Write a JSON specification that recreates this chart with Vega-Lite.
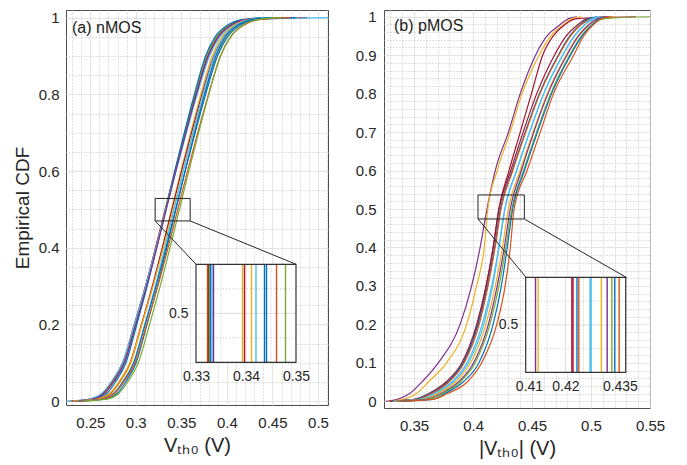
{
  "$schema": "https://vega.github.io/schema/vega-lite/v6.json",
  "padding": {"left": 12, "top": 9, "right": 5, "bottom": 5},
  "bounds": "flush",
  "spacing": 56,
  "config": {
    "view": {"stroke": "#4d4d4d", "strokeWidth": 1},
    "font": "Liberation Sans",
    "axis": {"labelFont": "Liberation Sans", "titleFont": "Liberation Sans", "labelColor": "#262626", "titleColor": "#262626", "titleFontWeight": "normal", "labelFontSize": 15, "titleFontSize": 19}
  },
  "resolve": {"scale": {"color": "independent"}},
  "datasets": {
    "nmos": [
      {"s":"L1","x":0.226,"y":0},{"s":"L1","x":0.2503,"y":0.005},{"s":"L1","x":0.2643,"y":0.02},{"s":"L1","x":0.2743,"y":0.05},{"s":"L1","x":0.2863,"y":0.1},{"s":"L1","x":0.2988,"y":0.2},{"s":"L1","x":0.3108,"y":0.3},{"s":"L1","x":0.3218,"y":0.4},{"s":"L1","x":0.3323,"y":0.5},{"s":"L1","x":0.3428,"y":0.6},{"s":"L1","x":0.3538,"y":0.7},{"s":"L1","x":0.3653,"y":0.8},{"s":"L1","x":0.3783,"y":0.9},{"s":"L1","x":0.3893,"y":0.95},{"s":"L1","x":0.4033,"y":0.98},{"s":"L1","x":0.4203,"y":0.995},{"s":"L1","x":0.452,"y":1},
      {"s":"L2","x":0.229,"y":0},{"s":"L2","x":0.2489,"y":0.005},{"s":"L2","x":0.2631,"y":0.02},{"s":"L2","x":0.2733,"y":0.05},{"s":"L2","x":0.2856,"y":0.1},{"s":"L2","x":0.2983,"y":0.2},{"s":"L2","x":0.3106,"y":0.3},{"s":"L2","x":0.3218,"y":0.4},{"s":"L2","x":0.3325,"y":0.5},{"s":"L2","x":0.3432,"y":0.6},{"s":"L2","x":0.3544,"y":0.7},{"s":"L2","x":0.3662,"y":0.8},{"s":"L2","x":0.3794,"y":0.9},{"s":"L2","x":0.3906,"y":0.95},{"s":"L2","x":0.4049,"y":0.98},{"s":"L2","x":0.4223,"y":0.995},{"s":"L2","x":0.488,"y":1},
      {"s":"L3","x":0.235,"y":0},{"s":"L3","x":0.2523,"y":0.005},{"s":"L3","x":0.2661,"y":0.02},{"s":"L3","x":0.2759,"y":0.05},{"s":"L3","x":0.2876,"y":0.1},{"s":"L3","x":0.2999,"y":0.2},{"s":"L3","x":0.3116,"y":0.3},{"s":"L3","x":0.3224,"y":0.4},{"s":"L3","x":0.3327,"y":0.5},{"s":"L3","x":0.343,"y":0.6},{"s":"L3","x":0.3538,"y":0.7},{"s":"L3","x":0.365,"y":0.8},{"s":"L3","x":0.3778,"y":0.9},{"s":"L3","x":0.3886,"y":0.95},{"s":"L3","x":0.4023,"y":0.98},{"s":"L3","x":0.4189,"y":0.995},{"s":"L3","x":0.460,"y":1},
      {"s":"L4","x":0.232,"y":0},{"s":"L4","x":0.255,"y":0.005},{"s":"L4","x":0.2683,"y":0.02},{"s":"L4","x":0.2778,"y":0.05},{"s":"L4","x":0.2892,"y":0.1},{"s":"L4","x":0.3011,"y":0.2},{"s":"L4","x":0.3125,"y":0.3},{"s":"L4","x":0.3229,"y":0.4},{"s":"L4","x":0.3329,"y":0.5},{"s":"L4","x":0.3429,"y":0.6},{"s":"L4","x":0.3533,"y":0.7},{"s":"L4","x":0.3643,"y":0.8},{"s":"L4","x":0.3766,"y":0.9},{"s":"L4","x":0.3871,"y":0.95},{"s":"L4","x":0.4004,"y":0.98},{"s":"L4","x":0.4165,"y":0.995},{"s":"L4","x":0.438,"y":1},
      {"s":"L5","x":0.224,"y":0},{"s":"L5","x":0.2479,"y":0.005},{"s":"L5","x":0.2625,"y":0.02},{"s":"L5","x":0.2729,"y":0.05},{"s":"L5","x":0.2854,"y":0.1},{"s":"L5","x":0.2984,"y":0.2},{"s":"L5","x":0.3108,"y":0.3},{"s":"L5","x":0.3223,"y":0.4},{"s":"L5","x":0.3332,"y":0.5},{"s":"L5","x":0.3441,"y":0.6},{"s":"L5","x":0.3556,"y":0.7},{"s":"L5","x":0.3675,"y":0.8},{"s":"L5","x":0.381,"y":0.9},{"s":"L5","x":0.3925,"y":0.95},{"s":"L5","x":0.407,"y":0.98},{"s":"L5","x":0.4247,"y":0.995},{"s":"L5","x":0.511,"y":1},
      {"s":"L6","x":0.230,"y":0},{"s":"L6","x":0.2515,"y":0.005},{"s":"L6","x":0.2655,"y":0.02},{"s":"L6","x":0.2755,"y":0.05},{"s":"L6","x":0.2875,"y":0.1},{"s":"L6","x":0.3,"y":0.2},{"s":"L6","x":0.312,"y":0.3},{"s":"L6","x":0.323,"y":0.4},{"s":"L6","x":0.3335,"y":0.5},{"s":"L6","x":0.344,"y":0.6},{"s":"L6","x":0.355,"y":0.7},{"s":"L6","x":0.3665,"y":0.8},{"s":"L6","x":0.3795,"y":0.9},{"s":"L6","x":0.3905,"y":0.95},{"s":"L6","x":0.4045,"y":0.98},{"s":"L6","x":0.4215,"y":0.995},{"s":"L6","x":0.470,"y":1},
      {"s":"L7","x":0.236,"y":0},{"s":"L7","x":0.2598,"y":0.005},{"s":"L7","x":0.2733,"y":0.02},{"s":"L7","x":0.283,"y":0.05},{"s":"L7","x":0.2947,"y":0.1},{"s":"L7","x":0.3068,"y":0.2},{"s":"L7","x":0.3184,"y":0.3},{"s":"L7","x":0.3291,"y":0.4},{"s":"L7","x":0.3393,"y":0.5},{"s":"L7","x":0.3495,"y":0.6},{"s":"L7","x":0.3602,"y":0.7},{"s":"L7","x":0.3713,"y":0.8},{"s":"L7","x":0.3839,"y":0.9},{"s":"L7","x":0.3946,"y":0.95},{"s":"L7","x":0.4082,"y":0.98},{"s":"L7","x":0.4247,"y":0.995},{"s":"L7","x":0.455,"y":1},
      {"s":"L8","x":0.233,"y":0},{"s":"L8","x":0.2577,"y":0.005},{"s":"L8","x":0.2717,"y":0.02},{"s":"L8","x":0.2817,"y":0.05},{"s":"L8","x":0.2937,"y":0.1},{"s":"L8","x":0.3062,"y":0.2},{"s":"L8","x":0.3182,"y":0.3},{"s":"L8","x":0.3292,"y":0.4},{"s":"L8","x":0.3397,"y":0.5},{"s":"L8","x":0.3502,"y":0.6},{"s":"L8","x":0.3612,"y":0.7},{"s":"L8","x":0.3727,"y":0.8},{"s":"L8","x":0.3857,"y":0.9},{"s":"L8","x":0.3967,"y":0.95},{"s":"L8","x":0.4107,"y":0.98},{"s":"L8","x":0.4277,"y":0.995},{"s":"L8","x":0.462,"y":1},
      {"s":"L9","x":0.231,"y":0},{"s":"L9","x":0.2566,"y":0.005},{"s":"L9","x":0.2711,"y":0.02},{"s":"L9","x":0.2814,"y":0.05},{"s":"L9","x":0.2937,"y":0.1},{"s":"L9","x":0.3066,"y":0.2},{"s":"L9","x":0.319,"y":0.3},{"s":"L9","x":0.3303,"y":0.4},{"s":"L9","x":0.3411,"y":0.5},{"s":"L9","x":0.3519,"y":0.6},{"s":"L9","x":0.3632,"y":0.7},{"s":"L9","x":0.3751,"y":0.8},{"s":"L9","x":0.3885,"y":0.9},{"s":"L9","x":0.3998,"y":0.95},{"s":"L9","x":0.4142,"y":0.98},{"s":"L9","x":0.4317,"y":0.995},{"s":"L9","x":0.468,"y":1},
      {"s":"L10","x":0.238,"y":0},{"s":"L10","x":0.2633,"y":0.005},{"s":"L10","x":0.2767,"y":0.02},{"s":"L10","x":0.2863,"y":0.05},{"s":"L10","x":0.2978,"y":0.1},{"s":"L10","x":0.3098,"y":0.2},{"s":"L10","x":0.3214,"y":0.3},{"s":"L10","x":0.3319,"y":0.4},{"s":"L10","x":0.342,"y":0.5},{"s":"L10","x":0.3521,"y":0.6},{"s":"L10","x":0.3626,"y":0.7},{"s":"L10","x":0.3737,"y":0.8},{"s":"L10","x":0.3862,"y":0.9},{"s":"L10","x":0.3967,"y":0.95},{"s":"L10","x":0.4102,"y":0.98},{"s":"L10","x":0.4265,"y":0.995},{"s":"L10","x":0.450,"y":1},
      {"s":"L11","x":0.240,"y":0},{"s":"L11","x":0.2617,"y":0.005},{"s":"L11","x":0.2757,"y":0.02},{"s":"L11","x":0.2857,"y":0.05},{"s":"L11","x":0.2977,"y":0.1},{"s":"L11","x":0.3102,"y":0.2},{"s":"L11","x":0.3222,"y":0.3},{"s":"L11","x":0.3332,"y":0.4},{"s":"L11","x":0.3437,"y":0.5},{"s":"L11","x":0.3542,"y":0.6},{"s":"L11","x":0.3652,"y":0.7},{"s":"L11","x":0.3767,"y":0.8},{"s":"L11","x":0.3897,"y":0.9},{"s":"L11","x":0.4007,"y":0.95},{"s":"L11","x":0.4147,"y":0.98},{"s":"L11","x":0.4317,"y":0.995},{"s":"L11","x":0.475,"y":1},
      {"s":"L12","x":0.237,"y":0},{"s":"L12","x":0.2662,"y":0.005},{"s":"L12","x":0.2795,"y":0.02},{"s":"L12","x":0.289,"y":0.05},{"s":"L12","x":0.3004,"y":0.1},{"s":"L12","x":0.3123,"y":0.2},{"s":"L12","x":0.3237,"y":0.3},{"s":"L12","x":0.3341,"y":0.4},{"s":"L12","x":0.3441,"y":0.5},{"s":"L12","x":0.3541,"y":0.6},{"s":"L12","x":0.3645,"y":0.7},{"s":"L12","x":0.3755,"y":0.8},{"s":"L12","x":0.3878,"y":0.9},{"s":"L12","x":0.3983,"y":0.95},{"s":"L12","x":0.4116,"y":0.98},{"s":"L12","x":0.4277,"y":0.995},{"s":"L12","x":0.448,"y":1},
      {"s":"L13","x":0.239,"y":0},{"s":"L13","x":0.2625,"y":0.005},{"s":"L13","x":0.2767,"y":0.02},{"s":"L13","x":0.2869,"y":0.05},{"s":"L13","x":0.2992,"y":0.1},{"s":"L13","x":0.3119,"y":0.2},{"s":"L13","x":0.3242,"y":0.3},{"s":"L13","x":0.3354,"y":0.4},{"s":"L13","x":0.3461,"y":0.5},{"s":"L13","x":0.3568,"y":0.6},{"s":"L13","x":0.368,"y":0.7},{"s":"L13","x":0.3798,"y":0.8},{"s":"L13","x":0.393,"y":0.9},{"s":"L13","x":0.4042,"y":0.95},{"s":"L13","x":0.4185,"y":0.98},{"s":"L13","x":0.4359,"y":0.995},{"s":"L13","x":0.470,"y":1},
      {"s":"L14","x":0.242,"y":0},{"s":"L14","x":0.2675,"y":0.005},{"s":"L14","x":0.2813,"y":0.02},{"s":"L14","x":0.2911,"y":0.05},{"s":"L14","x":0.3028,"y":0.1},{"s":"L14","x":0.3151,"y":0.2},{"s":"L14","x":0.3268,"y":0.3},{"s":"L14","x":0.3376,"y":0.4},{"s":"L14","x":0.3479,"y":0.5},{"s":"L14","x":0.3582,"y":0.6},{"s":"L14","x":0.369,"y":0.7},{"s":"L14","x":0.3802,"y":0.8},{"s":"L14","x":0.393,"y":0.9},{"s":"L14","x":0.4038,"y":0.95},{"s":"L14","x":0.4175,"y":0.98},{"s":"L14","x":0.4341,"y":0.995},{"s":"L14","x":0.460,"y":1}
    ],
    "pmos": [
      {"s":"R1","x":0.326,"y":0},{"s":"R1","x":0.336,"y":0.005},{"s":"R1","x":0.3463,"y":0.02},{"s":"R1","x":0.3565,"y":0.05},{"s":"R1","x":0.3705,"y":0.1},{"s":"R1","x":0.389,"y":0.2},{"s":"R1","x":0.3988,"y":0.3},{"s":"R1","x":0.406,"y":0.4},{"s":"R1","x":0.4118,"y":0.5},{"s":"R1","x":0.4188,"y":0.6},{"s":"R1","x":0.430,"y":0.7},{"s":"R1","x":0.440,"y":0.8},{"s":"R1","x":0.453,"y":0.9},{"s":"R1","x":0.4627,"y":0.95},{"s":"R1","x":0.474,"y":0.98},{"s":"R1","x":0.481,"y":0.995},{"s":"R1","x":0.488,"y":1},
      {"s":"R2","x":0.328,"y":0},{"s":"R2","x":0.341,"y":0.005},{"s":"R2","x":0.352,"y":0.02},{"s":"R2","x":0.362,"y":0.05},{"s":"R2","x":0.3775,"y":0.1},{"s":"R2","x":0.3946,"y":0.2},{"s":"R2","x":0.403,"y":0.3},{"s":"R2","x":0.4095,"y":0.4},{"s":"R2","x":0.4125,"y":0.5},{"s":"R2","x":0.4205,"y":0.6},{"s":"R2","x":0.4315,"y":0.7},{"s":"R2","x":0.4415,"y":0.8},{"s":"R2","x":0.456,"y":0.9},{"s":"R2","x":0.466,"y":0.95},{"s":"R2","x":0.477,"y":0.98},{"s":"R2","x":0.484,"y":0.995},{"s":"R2","x":0.492,"y":1},
      {"s":"R3","x":0.330,"y":0},{"s":"R3","x":0.352,"y":0.005},{"s":"R3","x":0.3648,"y":0.02},{"s":"R3","x":0.3788,"y":0.05},{"s":"R3","x":0.3918,"y":0.1},{"s":"R3","x":0.4038,"y":0.2},{"s":"R3","x":0.4113,"y":0.3},{"s":"R3","x":0.417,"y":0.4},{"s":"R3","x":0.4218,"y":0.5},{"s":"R3","x":0.4305,"y":0.6},{"s":"R3","x":0.440,"y":0.7},{"s":"R3","x":0.4495,"y":0.8},{"s":"R3","x":0.459,"y":0.9},{"s":"R3","x":0.468,"y":0.95},{"s":"R3","x":0.478,"y":0.98},{"s":"R3","x":0.488,"y":0.995},{"s":"R3","x":0.538,"y":1},
      {"s":"R4","x":0.329,"y":0},{"s":"R4","x":0.350,"y":0.005},{"s":"R4","x":0.3625,"y":0.02},{"s":"R4","x":0.377,"y":0.05},{"s":"R4","x":0.3905,"y":0.1},{"s":"R4","x":0.4031,"y":0.2},{"s":"R4","x":0.411,"y":0.3},{"s":"R4","x":0.4171,"y":0.4},{"s":"R4","x":0.4221,"y":0.5},{"s":"R4","x":0.432,"y":0.6},{"s":"R4","x":0.4425,"y":0.7},{"s":"R4","x":0.454,"y":0.8},{"s":"R4","x":0.469,"y":0.9},{"s":"R4","x":0.479,"y":0.95},{"s":"R4","x":0.489,"y":0.98},{"s":"R4","x":0.497,"y":0.995},{"s":"R4","x":0.512,"y":1},
      {"s":"R5","x":0.331,"y":0},{"s":"R5","x":0.351,"y":0.005},{"s":"R5","x":0.3635,"y":0.02},{"s":"R5","x":0.3785,"y":0.05},{"s":"R5","x":0.3915,"y":0.1},{"s":"R5","x":0.4042,"y":0.2},{"s":"R5","x":0.4122,"y":0.3},{"s":"R5","x":0.4182,"y":0.4},{"s":"R5","x":0.4232,"y":0.5},{"s":"R5","x":0.4332,"y":0.6},{"s":"R5","x":0.4442,"y":0.7},{"s":"R5","x":0.4562,"y":0.8},{"s":"R5","x":0.4722,"y":0.9},{"s":"R5","x":0.482,"y":0.95},{"s":"R5","x":0.491,"y":0.98},{"s":"R5","x":0.498,"y":0.995},{"s":"R5","x":0.505,"y":1},
      {"s":"R6","x":0.333,"y":0},{"s":"R6","x":0.353,"y":0.005},{"s":"R6","x":0.3648,"y":0.02},{"s":"R6","x":0.3795,"y":0.05},{"s":"R6","x":0.3925,"y":0.1},{"s":"R6","x":0.4052,"y":0.2},{"s":"R6","x":0.4127,"y":0.3},{"s":"R6","x":0.4187,"y":0.4},{"s":"R6","x":0.4237,"y":0.5},{"s":"R6","x":0.4337,"y":0.6},{"s":"R6","x":0.4447,"y":0.7},{"s":"R6","x":0.4567,"y":0.8},{"s":"R6","x":0.4727,"y":0.9},{"s":"R6","x":0.4827,"y":0.95},{"s":"R6","x":0.4917,"y":0.98},{"s":"R6","x":0.501,"y":0.995},{"s":"R6","x":0.515,"y":1},
      {"s":"R7","x":0.332,"y":0},{"s":"R7","x":0.355,"y":0.005},{"s":"R7","x":0.3668,"y":0.02},{"s":"R7","x":0.3818,"y":0.05},{"s":"R7","x":0.3948,"y":0.1},{"s":"R7","x":0.4078,"y":0.2},{"s":"R7","x":0.4158,"y":0.3},{"s":"R7","x":0.4218,"y":0.4},{"s":"R7","x":0.4268,"y":0.5},{"s":"R7","x":0.4368,"y":0.6},{"s":"R7","x":0.4478,"y":0.7},{"s":"R7","x":0.4598,"y":0.8},{"s":"R7","x":0.4758,"y":0.9},{"s":"R7","x":0.4858,"y":0.95},{"s":"R7","x":0.4948,"y":0.98},{"s":"R7","x":0.501,"y":0.995},{"s":"R7","x":0.507,"y":1},
      {"s":"R8","x":0.334,"y":0},{"s":"R8","x":0.356,"y":0.005},{"s":"R8","x":0.3681,"y":0.02},{"s":"R8","x":0.3831,"y":0.05},{"s":"R8","x":0.3961,"y":0.1},{"s":"R8","x":0.4091,"y":0.2},{"s":"R8","x":0.4166,"y":0.3},{"s":"R8","x":0.4221,"y":0.4},{"s":"R8","x":0.4271,"y":0.5},{"s":"R8","x":0.4371,"y":0.6},{"s":"R8","x":0.4481,"y":0.7},{"s":"R8","x":0.4601,"y":0.8},{"s":"R8","x":0.4761,"y":0.9},{"s":"R8","x":0.4861,"y":0.95},{"s":"R8","x":0.4951,"y":0.98},{"s":"R8","x":0.503,"y":0.995},{"s":"R8","x":0.510,"y":1},
      {"s":"R9","x":0.333,"y":0},{"s":"R9","x":0.358,"y":0.005},{"s":"R9","x":0.3699,"y":0.02},{"s":"R9","x":0.3849,"y":0.05},{"s":"R9","x":0.3979,"y":0.1},{"s":"R9","x":0.4109,"y":0.2},{"s":"R9","x":0.4189,"y":0.3},{"s":"R9","x":0.4249,"y":0.4},{"s":"R9","x":0.4299,"y":0.5},{"s":"R9","x":0.4399,"y":0.6},{"s":"R9","x":0.4509,"y":0.7},{"s":"R9","x":0.4629,"y":0.8},{"s":"R9","x":0.4789,"y":0.9},{"s":"R9","x":0.4889,"y":0.95},{"s":"R9","x":0.4979,"y":0.98},{"s":"R9","x":0.507,"y":0.995},{"s":"R9","x":0.520,"y":1},
      {"s":"R10","x":0.335,"y":0},{"s":"R10","x":0.360,"y":0.005},{"s":"R10","x":0.3725,"y":0.02},{"s":"R10","x":0.3875,"y":0.05},{"s":"R10","x":0.4005,"y":0.1},{"s":"R10","x":0.413,"y":0.2},{"s":"R10","x":0.4205,"y":0.3},{"s":"R10","x":0.4265,"y":0.4},{"s":"R10","x":0.4315,"y":0.5},{"s":"R10","x":0.441,"y":0.6},{"s":"R10","x":0.4515,"y":0.7},{"s":"R10","x":0.4635,"y":0.8},{"s":"R10","x":0.4795,"y":0.9},{"s":"R10","x":0.4895,"y":0.95},{"s":"R10","x":0.4985,"y":0.98},{"s":"R10","x":0.506,"y":0.995},{"s":"R10","x":0.515,"y":1},
      {"s":"R11","x":0.336,"y":0},{"s":"R11","x":0.362,"y":0.005},{"s":"R11","x":0.374,"y":0.02},{"s":"R11","x":0.389,"y":0.05},{"s":"R11","x":0.4018,"y":0.1},{"s":"R11","x":0.4143,"y":0.2},{"s":"R11","x":0.422,"y":0.3},{"s":"R11","x":0.4278,"y":0.4},{"s":"R11","x":0.4328,"y":0.5},{"s":"R11","x":0.4428,"y":0.6},{"s":"R11","x":0.4538,"y":0.7},{"s":"R11","x":0.4658,"y":0.8},{"s":"R11","x":0.4818,"y":0.9},{"s":"R11","x":0.4918,"y":0.95},{"s":"R11","x":0.5008,"y":0.98},{"s":"R11","x":0.512,"y":0.995},{"s":"R11","x":0.550,"y":1},
      {"s":"R12","x":0.338,"y":0},{"s":"R12","x":0.366,"y":0.005},{"s":"R12","x":0.376,"y":0.02},{"s":"R12","x":0.3915,"y":0.05},{"s":"R12","x":0.405,"y":0.1},{"s":"R12","x":0.417,"y":0.2},{"s":"R12","x":0.424,"y":0.3},{"s":"R12","x":0.429,"y":0.4},{"s":"R12","x":0.4336,"y":0.5},{"s":"R12","x":0.4436,"y":0.6},{"s":"R12","x":0.4546,"y":0.7},{"s":"R12","x":0.4666,"y":0.8},{"s":"R12","x":0.4826,"y":0.9},{"s":"R12","x":0.4926,"y":0.95},{"s":"R12","x":0.5016,"y":0.98},{"s":"R12","x":0.507,"y":0.995},{"s":"R12","x":0.512,"y":1},
      {"s":"R13","x":0.337,"y":0},{"s":"R13","x":0.366,"y":0.005},{"s":"R13","x":0.3782,"y":0.02},{"s":"R13","x":0.395,"y":0.05},{"s":"R13","x":0.4073,"y":0.1},{"s":"R13","x":0.4201,"y":0.2},{"s":"R13","x":0.4272,"y":0.3},{"s":"R13","x":0.4316,"y":0.4},{"s":"R13","x":0.4348,"y":0.5},{"s":"R13","x":0.4458,"y":0.6},{"s":"R13","x":0.457,"y":0.7},{"s":"R13","x":0.4682,"y":0.8},{"s":"R13","x":0.4853,"y":0.9},{"s":"R13","x":0.4938,"y":0.95},{"s":"R13","x":0.5023,"y":0.98},{"s":"R13","x":0.509,"y":0.995},{"s":"R13","x":0.518,"y":1}
    ]
  },
  "hconcat": [
    {
      "width": 262,
      "height": 395,
      "title": {"text": "(a) nMOS", "anchor": "start", "frame": "group", "offset": -26, "dx": 6, "fontSize": 16, "fontWeight": "normal", "font": "Liberation Sans", "color": "#1a1a1a"},
      "resolve": {"scale": {"x": "independent", "y": "independent"}, "axis": {"x": "independent", "y": "independent"}},
      "layer": [
        {
          "data": {"name": "nmos"},
          "mark": {"type": "line", "strokeWidth": 1.2, "clip": true, "interpolate": "monotone"},
          "encoding": {
            "x": {"field": "x", "type": "quantitative", "scale": {"domain": [0.2234, 0.511], "nice": false, "zero": false},
              "axis": {"title": "Vₜₕ₀ (V)", "values": [0.23,0.24,0.25,0.26,0.27,0.28,0.29,0.3,0.31,0.32,0.33,0.34,0.35,0.36,0.37,0.38,0.39,0.4,0.41,0.42,0.43,0.44,0.45,0.46,0.47,0.48,0.49,0.5,0.51],
                "labelExpr": "abs(datum.value*20-round(datum.value*20))<0.001 ? format(datum.value,'.2~f') : ''",
                "gridDash": {"condition": {"test": "abs(datum.value*20-round(datum.value*20))<0.001", "value": [1, 0]}, "value": [1, 2]},
                "gridColor": {"condition": {"test": "abs(datum.value*20-round(datum.value*20))<0.001", "value": "#dddddd"}, "value": "#c2c2c2"},
                "ticks": false, "domain": false, "labelPadding": 10, "titlePadding": 5, "labelOverlap": false, "labelFlush": false, "titleFontSize": 20}},
            "y": {"field": "y", "type": "quantitative", "scale": {"domain": [-0.01, 1.02], "nice": false, "zero": false},
              "axis": {"title": "Empirical CDF", "values": [0,0.05,0.1,0.15,0.2,0.25,0.3,0.35,0.4,0.45,0.5,0.55,0.6,0.65,0.7,0.75,0.8,0.85,0.9,0.95,1],
                "labelExpr": "abs(datum.value*5-round(datum.value*5))<0.001 ? format(datum.value,'.1~f') : ''",
                "gridDash": {"condition": {"test": "abs(datum.value*5-round(datum.value*5))<0.001", "value": [1, 0]}, "value": [1, 2]},
                "gridColor": {"condition": {"test": "abs(datum.value*5-round(datum.value*5))<0.001", "value": "#dddddd"}, "value": "#c2c2c2"},
                "ticks": false, "domain": false, "labelPadding": 7, "titlePadding": 6, "labelOverlap": false, "labelFlush": false}},
            "color": {"field": "s", "type": "nominal", "legend": null,
              "scale": {"domain": ["L1","L2","L3","L4","L5","L6","L7","L8","L9","L10","L11","L12","L13","L14"],
                "range": ["#D95319","#A2142F","#77AC30","#0072BD","#4DBEEE","#7E2F8E","#EDB120","#A2142F","#EDB120","#4DBEEE","#0072BD","#0072BD","#D95319","#77AC30"]}}
          }
        },
        {
          "data": {"values": [{}]},
          "mark": {"type": "rect", "filled": false, "stroke": "#262626", "strokeWidth": 1},
          "encoding": {
            "x": {"datum": 0.3213, "type": "quantitative", "scale": {"domain": [0.2234, 0.511], "nice": false, "zero": false}, "axis": null},
            "x2": {"datum": 0.3597},
            "y": {"datum": 0.470, "type": "quantitative", "scale": {"domain": [-0.01, 1.02], "nice": false, "zero": false}, "axis": null},
            "y2": {"datum": 0.5286}
          }
        },
        {
          "data": {"values": [{}]},
          "mark": {"type": "rule", "stroke": "#262626", "strokeWidth": 1},
          "encoding": {
            "x": {"datum": 0.3213, "type": "quantitative", "scale": {"domain": [0.2234, 0.511], "nice": false, "zero": false}, "axis": null},
            "x2": {"datum": 0.3661},
            "y": {"datum": 0.470, "type": "quantitative", "scale": {"domain": [-0.01, 1.02], "nice": false, "zero": false}, "axis": null},
            "y2": {"datum": 0.357}
          }
        },
        {
          "data": {"values": [{}]},
          "mark": {"type": "rule", "stroke": "#262626", "strokeWidth": 1},
          "encoding": {
            "x": {"datum": 0.3597, "type": "quantitative", "scale": {"domain": [0.2234, 0.511], "nice": false, "zero": false}, "axis": null},
            "x2": {"datum": 0.4759},
            "y": {"datum": 0.470, "type": "quantitative", "scale": {"domain": [-0.01, 1.02], "nice": false, "zero": false}, "axis": null},
            "y2": {"datum": 0.357}
          }
        },
        {
          "data": {"values": [{}]},
          "mark": {"type": "rect", "fill": "white"},
          "encoding": {
            "x": {"datum": 0.33, "type": "quantitative", "scale": {"domain": [0.304, 0.3564], "nice": false, "zero": false}, "axis": null},
            "x2": {"datum": 0.35},
            "y": {"datum": 0.49, "type": "quantitative", "scale": {"domain": [0.48129, 0.5619], "nice": false, "zero": false}, "axis": null},
            "y2": {"datum": 0.51}
          }
        },
        {
          "data": {"values": [{}]},
          "mark": {"type": "rule", "stroke": "#dddddd", "strokeWidth": 1},
          "encoding": {
            "x": {"datum": 0.33, "type": "quantitative", "scale": {"domain": [0.304, 0.3564], "nice": false, "zero": false}, "axis": null},
            "x2": {"datum": 0.35},
            "y": {"datum": 0.5, "type": "quantitative", "scale": {"domain": [0.48129, 0.5619], "nice": false, "zero": false}, "axis": null}
          }
        },
        {
          "data": {"values": [{}]},
          "mark": {"type": "rule", "stroke": "#c2c2c2", "strokeWidth": 1, "strokeDash": [1, 2]},
          "encoding": {
            "x": {"datum": 0.33, "type": "quantitative", "scale": {"domain": [0.304, 0.3564], "nice": false, "zero": false}, "axis": null},
            "x2": {"datum": 0.35},
            "y": {"datum": 0.495, "type": "quantitative", "scale": {"domain": [0.48129, 0.5619], "nice": false, "zero": false}, "axis": null}
          }
        },
        {
          "data": {"values": [{}]},
          "mark": {"type": "rule", "stroke": "#c2c2c2", "strokeWidth": 1, "strokeDash": [1, 2]},
          "encoding": {
            "x": {"datum": 0.33, "type": "quantitative", "scale": {"domain": [0.304, 0.3564], "nice": false, "zero": false}, "axis": null},
            "x2": {"datum": 0.35},
            "y": {"datum": 0.505, "type": "quantitative", "scale": {"domain": [0.48129, 0.5619], "nice": false, "zero": false}, "axis": null}
          }
        },
        {
          "data": {"values": [{}]},
          "mark": {"type": "rule", "stroke": "#dddddd", "strokeWidth": 1},
          "encoding": {
            "x": {"datum": 0.34, "type": "quantitative", "scale": {"domain": [0.304, 0.3564], "nice": false, "zero": false}, "axis": null},
            "y": {"datum": 0.49, "type": "quantitative", "scale": {"domain": [0.48129, 0.5619], "nice": false, "zero": false}, "axis": null},
            "y2": {"datum": 0.51}
          }
        },
        {
          "data": {"values": [{}]},
          "mark": {"type": "rule", "stroke": "#c2c2c2", "strokeWidth": 1, "strokeDash": [1, 2]},
          "encoding": {
            "x": {"datum": 0.335, "type": "quantitative", "scale": {"domain": [0.304, 0.3564], "nice": false, "zero": false}, "axis": null},
            "y": {"datum": 0.49, "type": "quantitative", "scale": {"domain": [0.48129, 0.5619], "nice": false, "zero": false}, "axis": null},
            "y2": {"datum": 0.51}
          }
        },
        {
          "data": {"values": [{}]},
          "mark": {"type": "rule", "stroke": "#c2c2c2", "strokeWidth": 1, "strokeDash": [1, 2]},
          "encoding": {
            "x": {"datum": 0.345, "type": "quantitative", "scale": {"domain": [0.304, 0.3564], "nice": false, "zero": false}, "axis": null},
            "y": {"datum": 0.49, "type": "quantitative", "scale": {"domain": [0.48129, 0.5619], "nice": false, "zero": false}, "axis": null},
            "y2": {"datum": 0.51}
          }
        },
        {
          "data": {"name": "nmos"},
          "transform": [{"filter": "datum.y == 0.5"}],
          "mark": {"type": "rule", "strokeWidth": 1.4},
          "encoding": {
            "x": {"field": "x", "type": "quantitative", "scale": {"domain": [0.304, 0.3564], "nice": false, "zero": false},
              "axis": {"orient": "bottom", "offset": -42.7, "values": [0.33, 0.34, 0.35], "format": ".2~f", "grid": false, "domain": false, "ticks": false, "title": null, "labelFontSize": 14, "labelPadding": 7, "labelFlush": false, "labelOverlap": false}},
            "y": {"datum": 0.49, "type": "quantitative", "scale": {"domain": [0.48129, 0.5619], "nice": false, "zero": false},
              "axis": {"orient": "left", "offset": -130, "values": [0.5], "format": ".1f", "grid": false, "domain": false, "ticks": false, "title": null, "labelFontSize": 14, "labelPadding": 8}},
            "y2": {"datum": 0.51},
            "color": {"field": "s", "type": "nominal", "legend": null,
              "scale": {"domain": ["L1","L2","L3","L4","L5","L6","L7","L8","L9","L10","L11","L12","L13","L14"],
                "range": ["#D95319","#A2142F","#77AC30","#0072BD","#4DBEEE","#7E2F8E","#EDB120","#A2142F","#EDB120","#4DBEEE","#0072BD","#0072BD","#D95319","#77AC30"]}}
          }
        },
        {
          "data": {"values": [{}]},
          "mark": {"type": "rect", "filled": false, "stroke": "#333333", "strokeWidth": 1.2},
          "encoding": {
            "x": {"datum": 0.33, "type": "quantitative", "scale": {"domain": [0.304, 0.3564], "nice": false, "zero": false}, "axis": null},
            "x2": {"datum": 0.35},
            "y": {"datum": 0.49, "type": "quantitative", "scale": {"domain": [0.48129, 0.5619], "nice": false, "zero": false}, "axis": null},
            "y2": {"datum": 0.51}
          }
        }
      ]
    },
    {
      "width": 266,
      "height": 398,
      "title": {"text": "(b) pMOS", "anchor": "start", "frame": "group", "offset": -24, "dx": 10, "fontSize": 16, "fontWeight": "normal", "font": "Liberation Sans", "color": "#1a1a1a"},
      "resolve": {"scale": {"x": "independent", "y": "independent"}, "axis": {"x": "independent", "y": "independent"}},
      "layer": [
        {
          "data": {"name": "pmos"},
          "mark": {"type": "line", "strokeWidth": 1.2, "clip": true, "interpolate": "monotone"},
          "encoding": {
            "x": {"field": "x", "type": "quantitative", "scale": {"domain": [0.3245, 0.55], "nice": false, "zero": false},
              "axis": {"title": "|Vₜₕ₀| (V)", "values": [0.33,0.34,0.35,0.36,0.37,0.38,0.39,0.4,0.41,0.42,0.43,0.44,0.45,0.46,0.47,0.48,0.49,0.5,0.51,0.52,0.53,0.54,0.55],
                "labelExpr": "abs(datum.value*20-round(datum.value*20))<0.001 ? format(datum.value,'.2~f') : ''",
                "gridDash": {"condition": {"test": "abs(datum.value*20-round(datum.value*20))<0.001", "value": [1, 0]}, "value": [1, 2]},
                "gridColor": {"condition": {"test": "abs(datum.value*20-round(datum.value*20))<0.001", "value": "#dddddd"}, "value": "#c2c2c2"},
                "ticks": false, "domain": false, "labelPadding": 10, "titlePadding": 5, "labelOverlap": false, "labelFlush": false, "titleFontSize": 20}},
            "y": {"field": "y", "type": "quantitative", "scale": {"domain": [-0.0175, 1.0175], "nice": false, "zero": false},
              "axis": {"title": null, "values": [0,0.02,0.04,0.06,0.08,0.1,0.12,0.14,0.16,0.18,0.2,0.22,0.24,0.26,0.28,0.3,0.32,0.34,0.36,0.38,0.4,0.42,0.44,0.46,0.48,0.5,0.52,0.54,0.56,0.58,0.6,0.62,0.64,0.66,0.68,0.7,0.72,0.74,0.76,0.78,0.8,0.82,0.84,0.86,0.88,0.9,0.92,0.94,0.96,0.98,1],
                "labelExpr": "abs(datum.value*10-round(datum.value*10))<0.001 ? format(datum.value,'.1~f') : ''",
                "gridDash": {"condition": {"test": "abs(datum.value*10-round(datum.value*10))<0.001", "value": [1, 0]}, "value": [1, 2]},
                "gridColor": {"condition": {"test": "abs(datum.value*10-round(datum.value*10))<0.001", "value": "#dddddd"}, "value": "#c2c2c2"},
                "ticks": false, "domain": false, "labelPadding": 8, "labelOverlap": false, "labelFlush": false}},
            "color": {"field": "s", "type": "nominal", "legend": null,
              "scale": {"domain": ["R1","R2","R3","R4","R5","R6","R7","R8","R9","R10","R11","R12","R13"],
                "range": ["#7E2F8E","#EDB120","#A2142F","#A2142F","#0072BD","#D95319","#4DBEEE","#4DBEEE","#EDB120","#7E2F8E","#77AC30","#0072BD","#D95319"]}}
          }
        },
        {
          "data": {"values": [{}]},
          "mark": {"type": "rect", "filled": false, "stroke": "#262626", "strokeWidth": 1},
          "encoding": {
            "x": {"datum": 0.4042, "type": "quantitative", "scale": {"domain": [0.3245, 0.55], "nice": false, "zero": false}, "axis": null},
            "x2": {"datum": 0.4435},
            "y": {"datum": 0.474, "type": "quantitative", "scale": {"domain": [-0.0175, 1.0175], "nice": false, "zero": false}, "axis": null},
            "y2": {"datum": 0.5365}
          }
        },
        {
          "data": {"values": [{}]},
          "mark": {"type": "rule", "stroke": "#262626", "strokeWidth": 1},
          "encoding": {
            "x": {"datum": 0.4042, "type": "quantitative", "scale": {"domain": [0.3245, 0.55], "nice": false, "zero": false}, "axis": null},
            "x2": {"datum": 0.4451},
            "y": {"datum": 0.474, "type": "quantitative", "scale": {"domain": [-0.0175, 1.0175], "nice": false, "zero": false}, "axis": null},
            "y2": {"datum": 0.3216}
          }
        },
        {
          "data": {"values": [{}]},
          "mark": {"type": "rule", "stroke": "#262626", "strokeWidth": 1},
          "encoding": {
            "x": {"datum": 0.4435, "type": "quantitative", "scale": {"domain": [0.3245, 0.55], "nice": false, "zero": false}, "axis": null},
            "x2": {"datum": 0.5302},
            "y": {"datum": 0.474, "type": "quantitative", "scale": {"domain": [-0.0175, 1.0175], "nice": false, "zero": false}, "axis": null},
            "y2": {"datum": 0.3216}
          }
        },
        {
          "data": {"values": [{}]},
          "mark": {"type": "rect", "fill": "white"},
          "encoding": {
            "x": {"datum": 0.4091, "type": "quantitative", "scale": {"domain": [0.37013, 0.44328], "nice": false, "zero": false}, "axis": null},
            "x2": {"datum": 0.4366},
            "y": {"datum": 0.49, "type": "quantitative", "scale": {"domain": [0.48251, 0.56629], "nice": false, "zero": false}, "axis": null},
            "y2": {"datum": 0.51}
          }
        },
        {
          "data": {"values": [{}]},
          "mark": {"type": "rule", "stroke": "#dddddd", "strokeWidth": 1},
          "encoding": {
            "x": {"datum": 0.4091, "type": "quantitative", "scale": {"domain": [0.37013, 0.44328], "nice": false, "zero": false}, "axis": null},
            "x2": {"datum": 0.4366},
            "y": {"datum": 0.5, "type": "quantitative", "scale": {"domain": [0.48251, 0.56629], "nice": false, "zero": false}, "axis": null}
          }
        },
        {
          "data": {"values": [{}]},
          "mark": {"type": "rule", "stroke": "#c2c2c2", "strokeWidth": 1, "strokeDash": [1, 2]},
          "encoding": {
            "x": {"datum": 0.4091, "type": "quantitative", "scale": {"domain": [0.37013, 0.44328], "nice": false, "zero": false}, "axis": null},
            "x2": {"datum": 0.4366},
            "y": {"datum": 0.495, "type": "quantitative", "scale": {"domain": [0.48251, 0.56629], "nice": false, "zero": false}, "axis": null}
          }
        },
        {
          "data": {"values": [{}]},
          "mark": {"type": "rule", "stroke": "#c2c2c2", "strokeWidth": 1, "strokeDash": [1, 2]},
          "encoding": {
            "x": {"datum": 0.4091, "type": "quantitative", "scale": {"domain": [0.37013, 0.44328], "nice": false, "zero": false}, "axis": null},
            "x2": {"datum": 0.4366},
            "y": {"datum": 0.505, "type": "quantitative", "scale": {"domain": [0.48251, 0.56629], "nice": false, "zero": false}, "axis": null}
          }
        },
        {
          "data": {"values": [{}]},
          "mark": {"type": "rule", "stroke": "#dddddd", "strokeWidth": 1},
          "encoding": {
            "x": {"datum": 0.42, "type": "quantitative", "scale": {"domain": [0.37013, 0.44328], "nice": false, "zero": false}, "axis": null},
            "y": {"datum": 0.49, "type": "quantitative", "scale": {"domain": [0.48251, 0.56629], "nice": false, "zero": false}, "axis": null},
            "y2": {"datum": 0.51}
          }
        },
        {
          "data": {"values": [{}]},
          "mark": {"type": "rule", "stroke": "#dddddd", "strokeWidth": 1},
          "encoding": {
            "x": {"datum": 0.43, "type": "quantitative", "scale": {"domain": [0.37013, 0.44328], "nice": false, "zero": false}, "axis": null},
            "y": {"datum": 0.49, "type": "quantitative", "scale": {"domain": [0.48251, 0.56629], "nice": false, "zero": false}, "axis": null},
            "y2": {"datum": 0.51}
          }
        },
        {
          "data": {"values": [{}]},
          "mark": {"type": "rule", "stroke": "#c2c2c2", "strokeWidth": 1, "strokeDash": [1, 2]},
          "encoding": {
            "x": {"datum": 0.415, "type": "quantitative", "scale": {"domain": [0.37013, 0.44328], "nice": false, "zero": false}, "axis": null},
            "y": {"datum": 0.49, "type": "quantitative", "scale": {"domain": [0.48251, 0.56629], "nice": false, "zero": false}, "axis": null},
            "y2": {"datum": 0.51}
          }
        },
        {
          "data": {"values": [{}]},
          "mark": {"type": "rule", "stroke": "#c2c2c2", "strokeWidth": 1, "strokeDash": [1, 2]},
          "encoding": {
            "x": {"datum": 0.425, "type": "quantitative", "scale": {"domain": [0.37013, 0.44328], "nice": false, "zero": false}, "axis": null},
            "y": {"datum": 0.49, "type": "quantitative", "scale": {"domain": [0.48251, 0.56629], "nice": false, "zero": false}, "axis": null},
            "y2": {"datum": 0.51}
          }
        },
        {
          "data": {"name": "pmos"},
          "transform": [{"filter": "datum.y == 0.5"}],
          "mark": {"type": "rule", "strokeWidth": 1.4},
          "encoding": {
            "x": {"field": "x", "type": "quantitative", "scale": {"domain": [0.37013, 0.44328], "nice": false, "zero": false},
              "axis": {"orient": "bottom", "offset": -35.6, "values": [0.41, 0.42, 0.435], "format": ".3~f", "grid": false, "domain": false, "ticks": false, "title": null, "labelFontSize": 14, "labelPadding": 7, "labelFlush": false, "labelOverlap": false}},
            "y": {"datum": 0.49, "type": "quantitative", "scale": {"domain": [0.48251, 0.56629], "nice": false, "zero": false},
              "axis": {"orient": "left", "offset": -141.7, "values": [0.5], "format": ".1f", "grid": false, "domain": false, "ticks": false, "title": null, "labelFontSize": 14, "labelPadding": 8}},
            "y2": {"datum": 0.51},
            "color": {"field": "s", "type": "nominal", "legend": null,
              "scale": {"domain": ["R1","R2","R3","R4","R5","R6","R7","R8","R9","R10","R11","R12","R13"],
                "range": ["#7E2F8E","#EDB120","#A2142F","#A2142F","#0072BD","#D95319","#4DBEEE","#4DBEEE","#EDB120","#7E2F8E","#77AC30","#0072BD","#D95319"]}}
          }
        },
        {
          "data": {"values": [{}]},
          "mark": {"type": "rect", "filled": false, "stroke": "#333333", "strokeWidth": 1.2},
          "encoding": {
            "x": {"datum": 0.4091, "type": "quantitative", "scale": {"domain": [0.37013, 0.44328], "nice": false, "zero": false}, "axis": null},
            "x2": {"datum": 0.4366},
            "y": {"datum": 0.49, "type": "quantitative", "scale": {"domain": [0.48251, 0.56629], "nice": false, "zero": false}, "axis": null},
            "y2": {"datum": 0.51}
          }
        }
      ]
    }
  ]
}
